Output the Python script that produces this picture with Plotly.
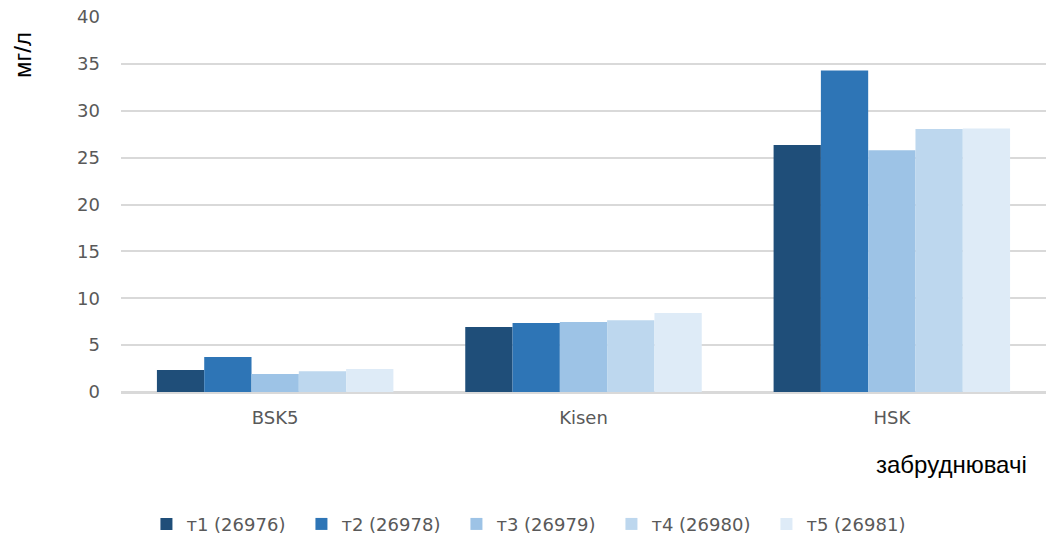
import plotly.graph_objects as go

categories = ["BSK5", "Kisen", "HSK"]
series_names = ["т1 (26976)", "т2 (26978)", "т3 (26979)", "т4 (26980)", "т5 (26981)"]
t1 = [2.35, 6.93, 26.35]
t2 = [3.73, 7.36, 34.3]
t3 = [1.92, 7.47, 25.8]
t4 = [2.22, 7.65, 28.05]
t5 = [2.45, 8.43, 28.1]
colors = ["#1F4E79", "#2E75B6", "#9DC3E6", "#BDD7EE", "#DEEBF7"]
y_ticks = [0, 5, 10, 15, 20, 25, 30, 35, 40]

tick_font = dict(family="'DejaVu Sans', sans-serif", size=18, color="#595959")
title_font = dict(family="'Liberation Sans', sans-serif", size=24, color="black")

fig = go.Figure()
for name, vals, c in zip(series_names, [t1, t2, t3, t4, t5], colors):
    fig.add_trace(go.Bar(x=categories, y=vals, name=name, marker_color=c,
                         marker_line_width=0))

fig.update_layout(
    width=1046, height=541,
    paper_bgcolor="white", plot_bgcolor="white",
    margin=dict(l=121, r=0, t=17, b=149),
    barmode="group", bargap=0.233, bargroupgap=0,
    showlegend=True,
    legend=dict(orientation="h", x=0.14, xanchor="left", xref="container",
                y=0.031, yanchor="middle", yref="container",
                font=tick_font, entrywidth=110, itemwidth=30,
                traceorder="normal"),
    xaxis=dict(showline=True, linecolor="#D9D9D9", linewidth=2, tickfont=tick_font,
               ticks="", ticklabelstandoff=8),
    yaxis=dict(range=[0, 40], tickvals=y_ticks, showgrid=True, gridcolor="#D9D9D9",
               gridwidth=1.5, zeroline=True, zerolinecolor="#D9D9D9", zerolinewidth=2,
               tickfont=tick_font, showline=False, ticklabelstandoff=20),
    annotations=[
        dict(text="мг/л", xref="paper", yref="paper", x=0, y=1.0, xanchor="center",
             yanchor="top", textangle=-90, showarrow=False,
             font=title_font, xshift=-99, yshift=-13),
        dict(text="забруднювачі", xref="paper", yref="paper", x=1.0, y=0, xanchor="right",
             yanchor="middle", showarrow=False, yshift=-72, xshift=-17,
             font=title_font),
    ],
)

fig.write_html("out.html")
